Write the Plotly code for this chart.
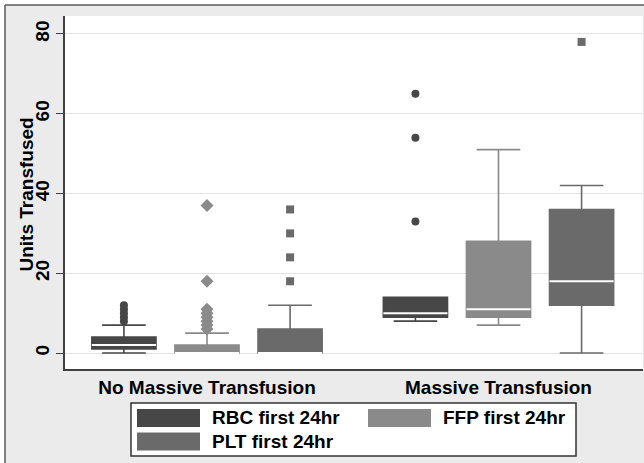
import plotly.graph_objects as go

# ---------------- data ----------------
groups = ["No Massive Transfusion", "Massive Transfusion"]
series = ["RBC first 24hr", "FFP first 24hr", "PLT first 24hr"]

rbc_q1 = [1, 9]
rbc_median = [2, 10]
rbc_q3 = [4, 14]
rbc_lower = [0, 8]
rbc_upper = [7, 14]
rbc_outliers = [[8, 9, 10, 11, 12], [33, 54, 65]]

ffp_q1 = [0, 9]
ffp_median = [0, 11]
ffp_q3 = [2, 28]
ffp_lower = [0, 7]
ffp_upper = [5, 51]
ffp_outliers = [[6, 7, 8, 9, 10, 11, 18, 37], []]

plt_q1 = [0, 12]
plt_median = [0, 18]
plt_q3 = [6, 36]
plt_lower = [0, 0]
plt_upper = [12, 42]
plt_outliers = [[18, 24, 30, 36], [78]]

y_ticks = [0, 20, 40, 60, 80]
y_title = "Units Transfused"

# ---------------- styling ----------------
colors = ["#474747", "#8a8a8a", "#6a6a6a"]
symbols = ["circle", "diamond", "square"]
sizes = [8, 10, 8]
FONT = "Liberation Sans, Arial, sans-serif"
FS = 19
W, H = 644, 463
ML, MR, MT, MB = 65, 1, 16, 94
offset = 0.285
box_w = 0.22

stats = [
    (rbc_q1, rbc_median, rbc_q3, rbc_lower, rbc_upper, rbc_outliers),
    (ffp_q1, ffp_median, ffp_q3, ffp_lower, ffp_upper, ffp_outliers),
    (plt_q1, plt_median, plt_q3, plt_lower, plt_upper, plt_outliers),
]

fig = go.Figure()
for i, (name, (q1, med, q3, lo, up, outs)) in enumerate(zip(series, stats)):
    xs = [g + (i - 1) * offset for g in range(len(groups))]
    fig.add_trace(go.Box(
        x=xs, q1=q1, median=med, q3=q3, lowerfence=lo, upperfence=up,
        width=box_w, whiskerwidth=0.68, fillcolor=colors[i],
        line=dict(color=colors[i], width=1.6), boxpoints=False,
        name=name, showlegend=False, hoverinfo="skip",
    ))
    # white median line
    fig.add_trace(go.Box(
        x=xs, q1=med, median=med, q3=med, lowerfence=med, upperfence=med,
        width=box_w, whiskerwidth=0, fillcolor="white",
        line=dict(color="white", width=2), boxpoints=False,
        showlegend=False, hoverinfo="skip",
    ))
    ox, oy = [], []
    for g, vals in enumerate(outs):
        ox += [xs[g]] * len(vals)
        oy += vals
    fig.add_trace(go.Scatter(
        x=ox, y=oy, mode="markers",
        marker=dict(symbol=symbols[i], size=sizes[i], color=colors[i], line=dict(width=0)),
        showlegend=False, hoverinfo="skip",
    ))

pw = W - ML - MR
ph = H - MT - MB


def px(x):
    return (x - ML) / pw


def py(y):
    return (H - MB - y) / ph


shapes = []
# white strips outside the outer frame
shapes.append(dict(type="rect", xref="paper", yref="paper", x0=px(0), x1=px(W), y0=py(5), y1=py(0),
                   fillcolor="white", line=dict(width=0), layer="below"))
shapes.append(dict(type="rect", xref="paper", yref="paper", x0=px(0), x1=px(5), y0=py(H), y1=py(0),
                   fillcolor="white", line=dict(width=0), layer="below"))
# frame lines
shapes.append(dict(type="line", xref="paper", yref="paper", x0=px(5), x1=px(W), y0=py(5), y1=py(5),
                   line=dict(color="#5a5a5a", width=1.5)))
shapes.append(dict(type="line", xref="paper", yref="paper", x0=px(5), x1=px(5), y0=py(5), y1=py(H),
                   line=dict(color="#5a5a5a", width=1.5)))
# legend box
shapes.append(dict(type="rect", xref="paper", yref="paper", x0=px(131), x1=px(576), y0=py(456), y1=py(403),
                   fillcolor="white", line=dict(color="#333333", width=1.5)))

annotations = []
col_sw = [137, 368]
col_tx = [210, 441]
row_c = [418, 441.5]
for i, name in enumerate(series):
    c, r = i % 2, i // 2
    shapes.append(dict(type="rect", xref="paper", yref="paper",
                       x0=px(col_sw[c]), x1=px(col_sw[c] + 63),
                       y0=py(row_c[r] + 9), y1=py(row_c[r] - 9),
                       fillcolor=colors[i], line=dict(width=0)))
    annotations.append(dict(xref="paper", yref="paper", x=px(col_tx[c]), y=py(row_c[r]),
                            text=f"<b>{name}</b>", showarrow=False, xanchor="left", yanchor="middle",
                            font=dict(family=FONT, size=FS, color="black")))

# y-axis title
annotations.append(dict(xref="paper", yref="paper", x=px(26.5), y=py(195),
                        text=f"<b>{y_title}</b>", textangle=-90, showarrow=False,
                        xanchor="center", yanchor="middle",
                        font=dict(family=FONT, size=FS, color="black")))

fig.update_layout(
    width=W, height=H,
    margin=dict(l=ML, r=MR, t=MT, b=MB, pad=0),
    paper_bgcolor="#ebebeb", plot_bgcolor="white",
    shapes=shapes, annotations=annotations,
    showlegend=False,
    font=dict(family=FONT, size=FS, color="black"),
    xaxis=dict(
        range=[(ML - 207) / 291.5, (W - MR - 207) / 291.5],
        tickvals=list(range(len(groups))), ticktext=[f"<b>{g}</b>" for g in groups],
        showgrid=False, zeroline=False, ticks="", showline=True, linecolor="#404040", linewidth=1.8,
        tickfont=dict(family=FONT, size=FS, color="black"),
    ),
    yaxis=dict(
        range=[-4.0, 84.5], tickvals=y_ticks, ticktext=[f"<b>{t}</b>" for t in y_ticks],
        tickangle=-90, ticks="outside", ticklen=7, tickcolor="#404040", tickwidth=1.2,
        showgrid=True, gridcolor="#e3e3e3", gridwidth=1, zeroline=False,
        showline=True, linecolor="#404040", linewidth=1.5,
        tickfont=dict(family=FONT, size=FS, color="black"),
    ),
)

fig.write_html("out.html", config={"displayModeBar": False},
               post_script="document.body.style.margin='0';document.body.style.overflow='hidden';")
